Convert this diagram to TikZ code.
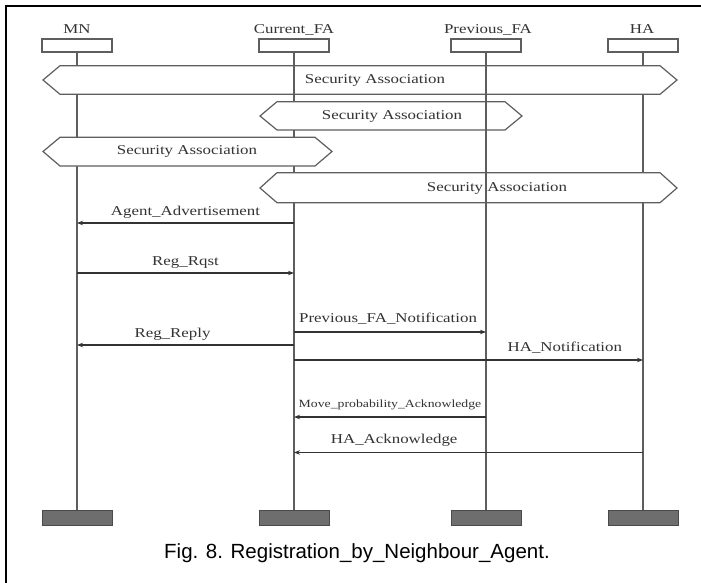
\documentclass[tikz,border=0pt]{standalone}
\usepackage{fontspec}
\setmainfont{Liberation Serif}[FakeStretch=1.25]
\newfontfamily\capfont{Liberation Sans}
\usetikzlibrary{arrows.meta}
\definecolor{linegray}{HTML}{5E5E5E}
\definecolor{msggray}{HTML}{333333}
\definecolor{endfill}{HTML}{6E6E6E}
\definecolor{endedge}{HTML}{4A4A4A}
\begin{document}
\begin{tikzpicture}[x=1pt,y=-1pt,
  lifeline/.style={draw=linegray, line width=1.3pt},
  headbox/.style={draw=linegray, fill=white, line width=1.2pt,
    minimum width=70pt, minimum height=13pt, inner sep=0pt},
  endbox/.style={draw=endedge, fill=endfill, line width=1pt,
    minimum width=70pt, minimum height=15pt, inner sep=0pt},
  headlabel/.style={anchor=base, inner sep=0pt, text=msggray,
    font=\fontsize{13.5}{16}\selectfont},
  band/.style={draw=linegray, fill=white, line width=1.2pt, line join=miter},
  bandlabel/.style={inner sep=0pt, text=msggray,
    font=\fontsize{13.5}{16}\selectfont},
  msg/.style={draw=msggray, line width=1.1pt,
    -{Stealth[length=6pt,width=4.5pt]}},
  msglabel/.style={anchor=base, yshift=8pt, inner sep=0pt, text=msggray,
    font=\fontsize{13.5}{16}\selectfont},
]
\useasboundingbox[fill=white] (0,0) rectangle (701,583);

% figure frame (top and left edges only)
\draw[line width=2.5pt] (6,583) -- (6,6) -- (701,6);

% participants
\node[headbox] (mnTop)  at (77,45.5)  {};
\node[headbox] (cfaTop) at (294,45.5) {};
\node[headbox] (pfaTop) at (486,45.5) {};
\node[headbox] (haTop)  at (643,45.5) {};
\node[headlabel] (mnName)  at (77,34)  {MN};
\node[headlabel] (cfaName) at (294,34) {Current\_FA};
\node[headlabel] (pfaName) at (488,34) {Previous\_FA};
\node[headlabel] (haName)  at (642,34) {HA};

\node[endbox] (mnEnd)  at (77,517.5)  {};
\node[endbox] (cfaEnd) at (294,517.5) {};
\node[endbox] (pfaEnd) at (486,517.5) {};
\node[endbox] (haEnd)  at (643,517.5) {};

% lifelines
\draw[lifeline] (mnTop.south)  -- (mnEnd.north);
\draw[lifeline] (cfaTop.south) -- (cfaEnd.north);
\draw[lifeline] (haTop.south)  -- (haEnd.north);

% security association bands
\draw[band] (43,80) -- (60,65.7) -- (660,65.7) -- (677,80) -- (660,94.3) -- (60,94.3) -- cycle;
\node[bandlabel] (sa1) at (375,80) {Security Association};
\draw[band] (260,116) -- (277,101.7) -- (505,101.7) -- (522,116) -- (505,130) -- (277,130) -- cycle;
\node[bandlabel] (sa2) at (392,116) {Security Association};
\draw[band] (43,151.5) -- (60,137.3) -- (315,137.3) -- (332,151.5) -- (315,166) -- (60,166) -- cycle;
\node[bandlabel] (sa3) at (187,151.5) {Security Association};
\draw[band] (260,188) -- (277,172.7) -- (660,172.7) -- (677,188) -- (660,202.7) -- (277,202.7) -- cycle;
\node[bandlabel] (sa4) at (497,188) {Security Association};

% lifeline segments that run over the bands
\draw[lifeline] (cfaTop |- 0,65.7) -- (cfaTop |- 0,94.3);
\draw[lifeline] (pfaTop.south) -- (pfaEnd.north);

% messages
\draw[msg] (cfaTop |- 0,223) -- node[msglabel, pos=.5] (l1) {Agent\_Advertisement} (mnTop |- 0,223);
\draw[msg] (mnTop |- 0,273) -- node[msglabel, pos=.5] (l2) {Reg\_Rqst} (cfaTop |- 0,273);
\draw[msg] (cfaTop |- 0,332) -- node[msglabel, pos=.49, yshift=1.5pt] (l3) {Previous\_FA\_Notification} (pfaTop |- 0,332);
\draw[msg] (cfaTop |- 0,345) -- node[msglabel, pos=.56] (l4) {Reg\_Reply} (mnTop |- 0,345);
\draw[msg] (cfaTop |- 0,360) -- node[msglabel, pos=.776, yshift=1pt] (l5) {HA\_Notification} (haTop |- 0,360);
\draw[msg] (pfaTop |- 0,417) -- node[msglabel, pos=.5, yshift=2pt, font=\fontsize{11}{13}\selectfont] (l6) {Move\_probability\_Acknowledge} (cfaTop |- 0,417);
\draw[msg] (haTop |- 0,452.5) -- node[msglabel, pos=.713, yshift=1pt] (l7) {HA\_Acknowledge} (cfaTop |- 0,452.5);

% caption
\node[anchor=base, inner sep=0pt, font=\capfont\fontsize{20.5}{24}\selectfont] (caption) at (357,558)
  {Fig. 8. Registration\_by\_Neighbour\_Agent.};
\end{tikzpicture}
\end{document}
